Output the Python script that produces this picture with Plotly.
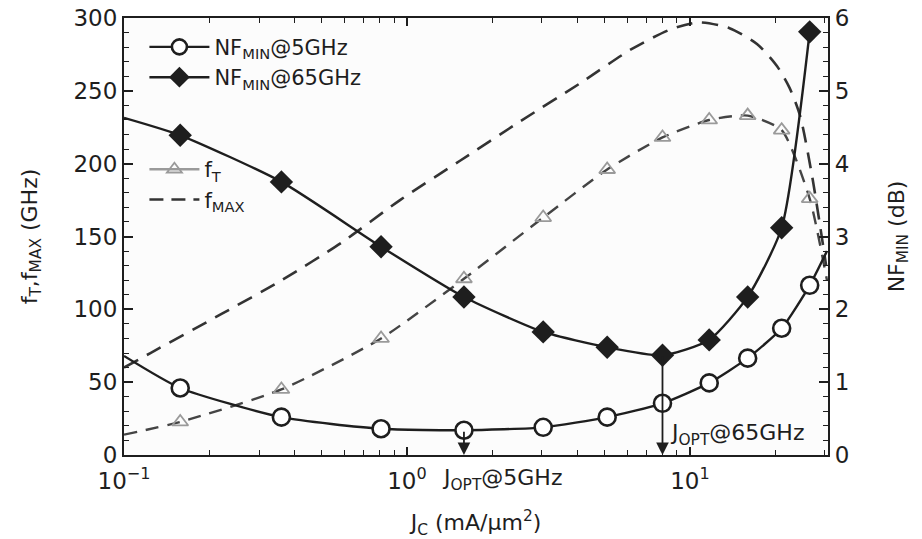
import numpy as np
import plotly.graph_objects as go

# ---------------- data ----------------
jc = [0.158, 0.36, 0.81, 1.59, 3.03, 5.1, 8.0, 11.7, 16.0, 21.1, 26.5]          # mA/um^2
nf5 = [0.92, 0.52, 0.36, 0.34, 0.38, 0.52, 0.71, 0.99, 1.33, 1.74, 2.33]        # dB
nf65 = [4.39, 3.75, 2.86, 2.17, 1.69, 1.48, 1.37, 1.58, 2.17, 3.12, 5.81]       # dB
ft = [22.7, 45, 80, 121, 163, 196, 218, 230, 233, 223, 176]                     # GHz

# curve continuations beyond the marked points
jc_ends = [0.1, 30.5]
nf5_ends = [1.36, 2.8]
nf65_left = 4.63
ft_ends = [14, 120]

jc_fmax = [0.1, 0.124, 0.222, 0.361, 0.589, 0.945, 1.54, 2.51, 4.08, 6.14, 8.5,
           10.8, 13.8, 17.3, 20.3, 22.5, 24.5, 27.0, 30.3]
fmax = [60, 70, 97, 120, 146, 175, 202, 229, 255, 278, 292,
        297, 293, 282, 267, 252, 233, 192, 130]

x_ticks = [0.1, 1, 10]
x_ticktext = ["10<sup>−1</sup>", "10<sup>0</sup>", "10<sup>1</sup>"]
x_minor = [m * d for d in (0.1, 1, 10) for m in range(2, 10) if m * d <= 30]

FONT = "DejaVu Sans, Arial, sans-serif"
INK = "#1e1e1e"

fig = go.Figure()

# f_MAX dashed curve (left axis)
fig.add_trace(go.Scatter(x=jc_fmax, y=fmax, mode="lines", line=dict(color="#333", width=2.6, dash="16px,10px", shape="spline", smoothing=0.7),
                         showlegend=False, hoverinfo="skip"))
# f_T dashed curve + triangles
fig.add_trace(go.Scatter(x=[jc_ends[0]] + jc + [jc_ends[1]], y=[ft_ends[0]] + ft + [ft_ends[1]], mode="lines",
                         line=dict(color="#444", width=2.4, dash="13px,9px", shape="spline", smoothing=0.6),
                         showlegend=False, hoverinfo="skip"))
fig.add_trace(go.Scatter(x=jc, y=ft, mode="markers",
                         marker=dict(symbol="triangle-up-open", size=14, color="#9a9a9a", line=dict(width=1.8, color="#9a9a9a")),
                         showlegend=False))

# NF_MIN @ 5 GHz (right axis)
fig.add_trace(go.Scatter(x=[jc_ends[0]] + jc + [jc_ends[1]], y=[nf5_ends[0]] + nf5 + [nf5_ends[1]], yaxis="y2", mode="lines",
                         line=dict(color=INK, width=2.4, shape="spline", smoothing=0.6), showlegend=False, hoverinfo="skip"))
fig.add_trace(go.Scatter(x=jc, y=nf5, yaxis="y2", mode="markers",
                         marker=dict(symbol="circle", size=17, color="white", line=dict(width=2.6, color=INK)),
                         showlegend=False))
# NF_MIN @ 65 GHz (right axis)
fig.add_trace(go.Scatter(x=[jc_ends[0]] + jc, y=[nf65_left] + nf65, yaxis="y2", mode="lines",
                         line=dict(color=INK, width=2.4, shape="spline", smoothing=0.6), showlegend=False, hoverinfo="skip"))
fig.add_trace(go.Scatter(x=jc, y=nf65, yaxis="y2", mode="markers",
                         marker=dict(symbol="diamond", size=18, color=INK, line=dict(width=0)),
                         showlegend=False))

# legend-only entries
fig.add_trace(go.Scatter(x=[None], y=[None], mode="lines+markers", name="NF<sub>MIN</sub>@5GHz", legend="legend",
                         line=dict(color=INK, width=2.4),
                         marker=dict(symbol="circle", size=15, color="white", line=dict(width=2.6, color=INK))))
fig.add_trace(go.Scatter(x=[None], y=[None], mode="lines+markers", name="NF<sub>MIN</sub>@65GHz", legend="legend",
                         line=dict(color=INK, width=2.4),
                         marker=dict(symbol="diamond", size=17, color=INK)))
fig.add_trace(go.Scatter(x=[None], y=[None], mode="lines+markers", name="f<sub>T</sub>", legend="legend2",
                         line=dict(color="#9a9a9a", width=2.4),
                         marker=dict(symbol="triangle-up-open", size=13, color="#9a9a9a", line=dict(width=1.8))))
fig.add_trace(go.Scatter(x=[None], y=[None], mode="lines", name="f<sub>MAX</sub>", legend="legend2",
                         line=dict(color="#333", width=2.4, dash="14px,8px")))

# J_OPT arrows
i5 = int(np.argmin(nf5))
i65 = int(np.argmin(nf65))
jopt5, jopt65 = jc[i5], jc[i65]
for jx, ny in ((jopt5, nf5[i5]), (jopt65, nf65[i65])):
    fig.add_annotation(x=np.log10(jx), y=0, xref="x", yref="y2", ax=np.log10(jx), ay=ny, axref="x", ayref="y2",
                       showarrow=True, arrowhead=2, arrowsize=1.4, arrowwidth=1.8, arrowcolor=INK, text="")

fig.add_annotation(x=np.log10(jopt5), y=-0.057, xref="x", yref="paper", xanchor="left", yanchor="middle", xshift=-24,
                   text="J<sub>OPT</sub>@5GHz", showarrow=False, font=dict(family=FONT, size=22, color=INK))
fig.add_annotation(x=np.log10(jopt65), y=0.046, xref="x", yref="paper", xanchor="left", yanchor="middle", xshift=6,
                   text="J<sub>OPT</sub>@65GHz", showarrow=False, font=dict(family=FONT, size=22, color=INK))

axis_common = dict(showline=True, linecolor=INK, linewidth=2.2, ticks="inside", tickcolor=INK, automargin=False,
                   tickfont=dict(family=FONT, size=23, color=INK), showgrid=False, zeroline=False)

fig.update_layout(
    width=922, height=539,
    margin=dict(l=124, r=94, t=18, b=84),
    paper_bgcolor="white", plot_bgcolor="#fcfcfc",
    font=dict(family=FONT, color=INK),
    xaxis=dict(type="log", range=[-1, 1.488], tickvals=x_ticks, ticktext=x_ticktext, ticklen=8, tickwidth=1.8,
               mirror="ticks", ticklabelstandoff=4,
               minor=dict(tickvals=x_minor, ticks="inside", ticklen=5, tickcolor=INK, tickwidth=1.4),
               title=dict(text="J<sub>C</sub> (mA/μm<sup>2</sup>)", font=dict(family=FONT, size=22, color=INK), standoff=24),
               **axis_common),
    yaxis=dict(range=[0, 300], tickvals=[0, 50, 100, 150, 200, 250, 300], ticklen=9, tickwidth=1.8,
               minor=dict(dtick=10, ticks="inside", ticklen=5, tickcolor=INK, tickwidth=1.4),
               title=dict(text="f<sub>T</sub>,f<sub>MAX</sub> (GHz)", font=dict(family=FONT, size=22, color=INK), standoff=30),
               **axis_common),
    yaxis2=dict(range=[0, 6], overlaying="y", side="right", tickvals=[0, 1, 2, 3, 4, 5, 6], ticklen=9, tickwidth=1.8,
                minor=dict(dtick=0.2, ticks="inside", ticklen=5, tickcolor=INK, tickwidth=1.4),
                title=dict(text="NF<sub>MIN</sub> (dB)", font=dict(family=FONT, size=22, color=INK), standoff=40),
                **axis_common),
    legend=dict(x=0.029, y=0.98, xanchor="left", yanchor="top", bgcolor="rgba(0,0,0,0)",
                font=dict(family=FONT, size=21, color=INK), itemwidth=60, tracegroupgap=0),
    legend2=dict(x=0.029, y=0.70, xanchor="left", yanchor="top", bgcolor="rgba(0,0,0,0)",
                 font=dict(family=FONT, size=21, color=INK), itemwidth=50, tracegroupgap=0),
)

# remove the default 8 px page margin so the 922x539 figure fills the window exactly
fig.write_html("out.html", config={"displayModeBar": False},
               post_script="document.body.style.margin='0';")
